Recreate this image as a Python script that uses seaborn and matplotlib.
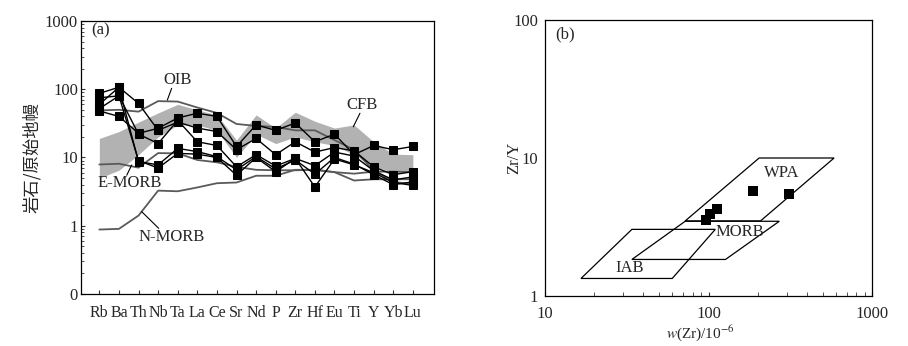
import numpy as np
import pandas as pd
import matplotlib
matplotlib.use("Agg")
import matplotlib.pyplot as plt
import seaborn as sns
from matplotlib.patches import Polygon
from matplotlib.ticker import LogLocator, NullFormatter

# ---------------- data ----------------
elements = ["Rb", "Ba", "Th", "Nb", "Ta", "La", "Ce", "Sr", "Nd", "P",
            "Zr", "Hf", "Eu", "Ti", "Y", "Yb", "Lu"]

sample1 = [48, 40, 22.6, 26.8, 38, 44.5, 40, 14.5, 30, 25, 32, 17, 22, 11, 15, 13, 14.5]
sample2 = [87, 107, 62, 25, 33, 27, 24, 13, 19, 11, 17, 12, 14, 12.5, 7.3, 5.6, 6.2]
sample3 = [75, 80, 22, 16, 35, 17, 15, 7.3, 11, 7.5, 9.7, 7.6, 12, 10.5, 6.4, 4.7, 5.2]
sample4 = [60, 107, 8.7, 7.8, 13.6, 12.2, 10.3, 6.6, 10.3, 6.8, 9.2, 5.7, 10, 8, 5.6, 4.0, 4.4]
sample5 = [52, 80, 9.0, 7.0, 11.5, 11.2, 10, 5.5, 10, 6.2, 9.7, 3.7, 9.5, 7.8, 6.0, 4.3, 3.9]

oib = [49, 50, 47, 67, 66, 54, 45, 31, 29, 28, 25, 25, 18, 13, 6.4, 4.4, 4.05]
emorb = [7.9, 8.1, 7.1, 11.6, 11.5, 9.2, 8.5, 7.3, 6.6, 6.5, 6.5, 6.6, 6.1, 4.6, 4.8, 4.8, 4.8]
nmorb = [0.88, 0.9, 1.41, 3.27, 3.2, 3.64, 4.2, 4.3, 5.4, 5.4, 6.6, 6.6, 6.1, 5.8, 6.2, 6.2, 6.1]
cfb_upper = [19, 24, 33, 45, 60, 50, 42, 18, 42, 27, 46, 34, 27, 30, 17, 11.2, 11]
cfb_lower = [5, 6.5, 11, 20, 30, 30, 25, 10, 22, 16, 20, 17, 15, 11, 7.3, 6.2, 6.2]

zr_ppm = [97, 102, 113, 186, 312]
zr_y = [3.55, 3.93, 4.25, 5.77, 5.46]

wpa_x = [72, 204, 586, 208]
wpa_y = [3.5, 10, 10, 3.5]
morb_x = [34, 72, 271, 127]
morb_y = [1.84, 3.48, 3.48, 1.84]
iab_x = [16.6, 34, 110, 60]
iab_y = [1.34, 3.04, 3.04, 1.34]

# ---------------- style ----------------
sns.set_style("ticks")
plt.rcParams["font.family"] = ["Liberation Serif", "DejaVu Serif"]
plt.rcParams["mathtext.fontset"] = "stix"
plt.rcParams["font.size"] = 11

fig = plt.figure(figsize=(9.08, 3.46), dpi=100)
axa = fig.add_axes([0.0889, 0.1503, 0.3891, 0.789])
axb = fig.add_axes([0.6002, 0.1445, 0.3602, 0.7977])

# ---------------- panel (a) ----------------
pos = np.arange(len(elements))
grey = "#5a5a5a"

axa.fill_between(pos, cfb_lower, cfb_upper, color="#b2b2b2", lw=0, zorder=1)

for ref in (oib, emorb, nmorb):
    sns.lineplot(x=pos, y=ref, ax=axa, color=grey, lw=1.3, zorder=2)

samples = {"s1": sample1, "s2": sample2, "s3": sample3, "s4": sample4, "s5": sample5}
df = pd.DataFrame([(name, i, v) for name, vals in samples.items() for i, v in enumerate(vals)],
                  columns=["sample", "pos", "value"])
sns.lineplot(data=df, x="pos", y="value", units="sample", estimator=None,
             color="black", lw=1.0, marker="s", markersize=5.5,
             markeredgecolor="black", markerfacecolor="black", ax=axa, zorder=3)

axa.set_yscale("log")
axa.set_ylim(0.1, 1000)
axa.set_xlim(-0.95, 17.08)
axa.set_yticks([0.1, 1, 10, 100, 1000])
axa.set_yticklabels(["0", "1", "10", "100", "1000"], fontsize=12)
axa.yaxis.set_minor_locator(LogLocator(base=10, subs=np.arange(2, 10)))
axa.yaxis.set_minor_formatter(NullFormatter())
axa.set_xticks(pos)
axa.set_xticklabels(elements, fontsize=11.5)
axa.tick_params(axis="both", which="major", direction="in", length=3, width=0.8, color="#333333")
axa.tick_params(axis="y", which="minor", direction="in", length=2, width=0.6, color="#333333")
axa.tick_params(axis="x", pad=8)
axa.tick_params(axis="y", pad=2)
axa.set_xlabel("")
axa.set_ylabel("岩石/原始地幔", family=["Noto Sans CJK SC", "DejaVu Sans"], fontsize=12.5)
axa.yaxis.set_label_coords(-0.112, 0.5)
for sp in axa.spines.values():
    sp.set_visible(True)
    sp.set_linewidth(0.9)
    sp.set_color("black")

axa.text(-0.4, 740, "(a)", fontsize=12, ha="left", va="center")
axa.text(4.0, 136, "OIB", fontsize=12, ha="center", va="center")
axa.plot([3.69, 3.47], [103, 69.5], color="black", lw=0.8)
axa.text(13.4, 58, "CFB", fontsize=12, ha="center", va="center")
axa.plot([13.3, 12.96], [44.5, 28.2], color="black", lw=0.8)
axa.text(1.57, 4.2, "E-MORB", fontsize=12, ha="center", va="center")
axa.plot([1.4, 1.65], [5.5, 7.76], color="black", lw=0.8)
axa.text(3.69, 0.69, "N-MORB", fontsize=12, ha="center", va="center")
axa.plot([2.16, 3.03], [1.61, 0.916], color="black", lw=0.8)

# ---------------- panel (b) ----------------
for fx, fy in ((wpa_x, wpa_y), (morb_x, morb_y), (iab_x, iab_y)):
    axb.add_patch(Polygon(np.column_stack([fx, fy]), closed=True, fill=False,
                          edgecolor="black", lw=0.9, zorder=2))

sns.scatterplot(x=zr_ppm, y=zr_y, ax=axb, marker="s", s=55, color="black",
                edgecolor="black", linewidth=0, zorder=3)

axb.set_xscale("log")
axb.set_yscale("log")
axb.set_xlim(10, 1000)
axb.set_ylim(1, 100)
axb.set_xticks([10, 100, 1000])
axb.set_xticklabels(["10", "100", "1000"], fontsize=12)
axb.set_yticks([1, 10, 100])
axb.set_yticklabels(["1", "10", "100"], fontsize=12)
axb.xaxis.set_minor_locator(LogLocator(base=10, subs=np.arange(2, 10)))
axb.xaxis.set_minor_formatter(NullFormatter())
axb.yaxis.set_minor_locator(LogLocator(base=10, subs=np.arange(2, 10)))
axb.yaxis.set_minor_formatter(NullFormatter())
axb.tick_params(axis="both", which="major", direction="in", length=3, width=0.8, color="#333333")
axb.tick_params(axis="both", which="minor", direction="in", length=3, width=0.6, color="#333333")
axb.tick_params(axis="y", which="both", length=0, pad=5)
axb.tick_params(axis="x", pad=7)
axb.set_xlabel(r"$w$(Zr)/10$^{-6}$", fontsize=11)
axb.xaxis.set_label_coords(0.474, -0.098)
axb.set_ylabel("Zr/Y", fontsize=12)
axb.yaxis.set_label_coords(-0.07, 0.5)
for sp in axb.spines.values():
    sp.set_visible(True)
    sp.set_linewidth(0.9)
    sp.set_color("black")

axb.text(11.5, 78, "(b)", fontsize=12, ha="left", va="center")
axb.text(280, 7.75, "WPA", fontsize=12, ha="center", va="center")
axb.text(156, 2.92, "MORB", fontsize=12, ha="center", va="center")
axb.text(33, 1.59, "IAB", fontsize=12, ha="center", va="center")

fig.savefig("out.png", dpi=100)
